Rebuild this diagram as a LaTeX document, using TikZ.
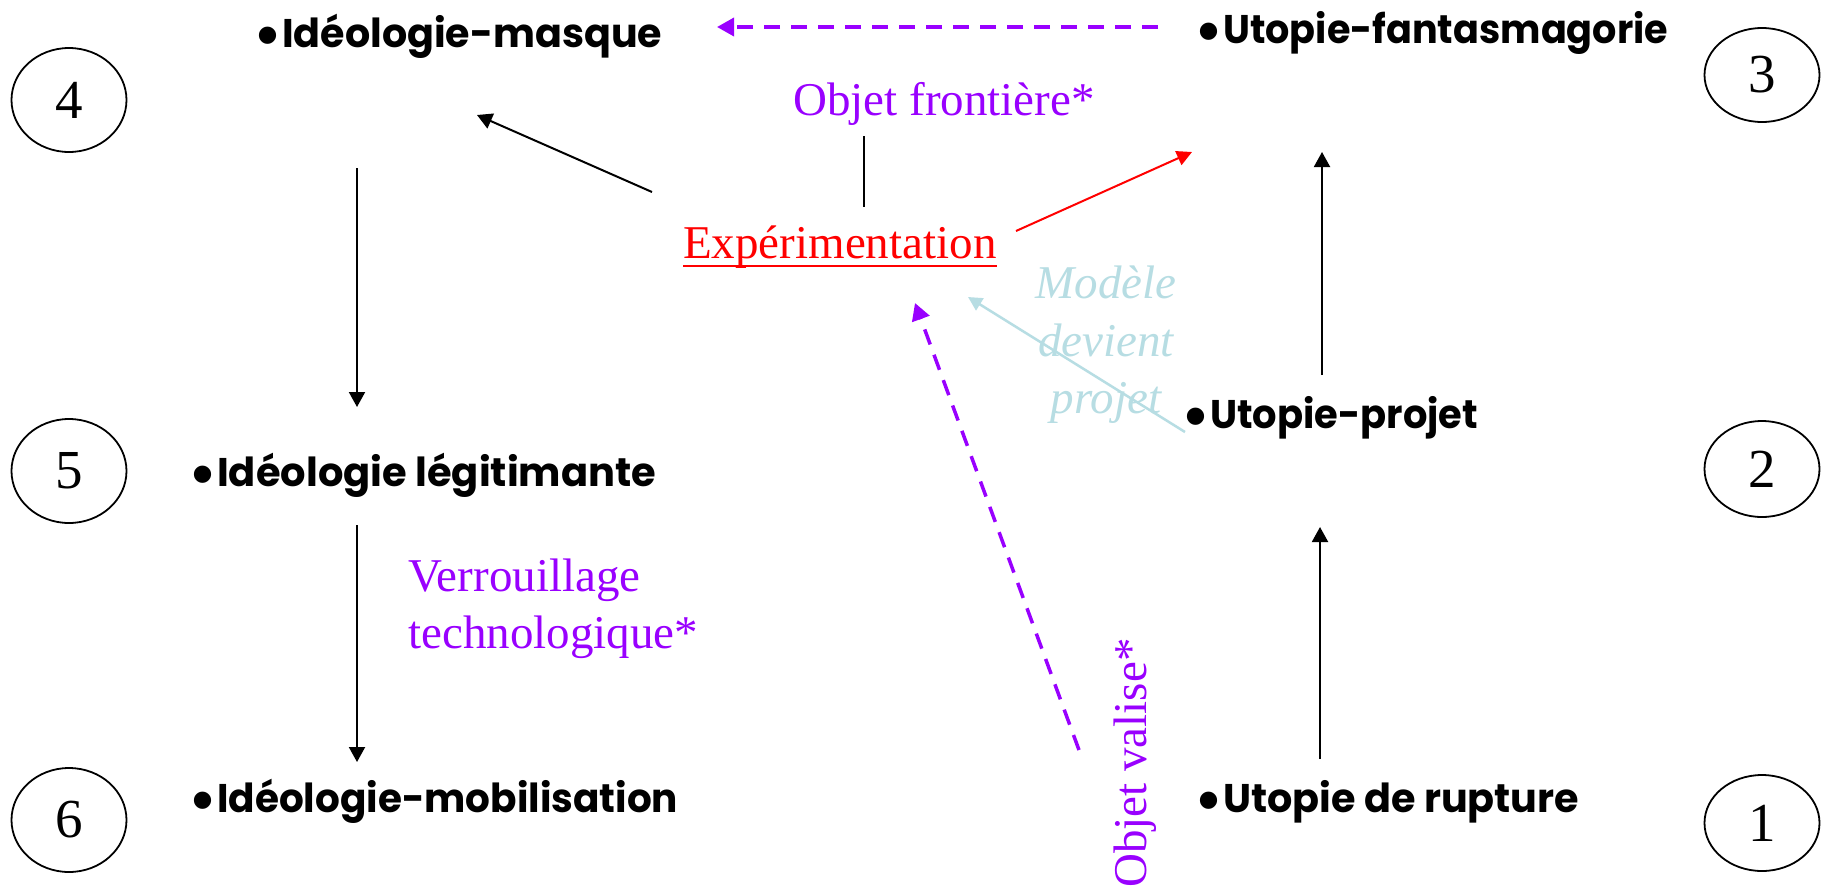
\documentclass[tikz,border=0pt]{standalone}
\usepackage{fontspec}
\usepackage{graphicx}
\setmainfont{Liberation Serif}
\newfontfamily\gothic{Poppins}
\newfontfamily\bulletfont{Liberation Sans}
\usetikzlibrary{shapes.geometric,arrows.meta}
\definecolor{viol}{RGB}{153,0,255}
\definecolor{lblue}{RGB}{183,221,227}
\newcommand{\bitem}[2]{\makebox[20pt][l]{\hspace{-5pt}\raisebox{-8pt}{\scalebox{1.5}{\bulletfont\bfseries •}}}\resizebox{#1}{\height}{\gothic\bfseries #2}}
\tikzset{
  bolditem/.style={anchor=base west, inner sep=0pt, font=\fontsize{40}{48}\selectfont},
  serif/.style={inner sep=0pt, font=\fontsize{47}{57}\selectfont},
  num/.style={ellipse, draw, line width=1.8pt, inner sep=0pt, font=\fontsize{55}{60}\selectfont, minimum width=115pt},
  blk/.style={draw, line width=2pt, -{Triangle[length=15pt,width=16pt]}},
  redarr/.style={draw=red, line width=2pt, -{Triangle[length=15pt,width=15pt]}, red},
  violarr/.style={draw=viol, line width=3.5pt, dash pattern=on 16pt off 11pt, -{Triangle[length=17pt,width=18pt]}, viol},
  bluearr/.style={draw=lblue, line width=2.5pt, -{Triangle[length=14pt,width=14pt]}, lblue},
}
\begin{document}
\begin{tikzpicture}[x=1pt,y=-1pt]
\useasboundingbox (0,0) rectangle (1826,895);
\fill[white] (0,0) rectangle (1826,895);

% numbered ellipses
\node[num, minimum height=104pt] (c4) at (69,100) {4};
\node[num, minimum height=94pt] (c3) at (1762,75) {3};
\node[num, minimum height=96pt] (c2) at (1762,469) {2};
\node[num, minimum height=104pt] (c5) at (69,471) {5};
\node[num, minimum height=104pt] (c6) at (69,820) {6};
\node[num, minimum height=96pt] (c1) at (1762,823) {1};

% bold items
\node[bolditem] (masque) at (262,47) {\bitem{380pt}{Idéologie-masque}};
\node[bolditem] (fantas) at (1203,43) {\bitem{445pt}{Utopie-fantasmagorie}};
\node[bolditem] (projet) at (1190,428) {\bitem{268pt}{Utopie-projet}};
\node[bolditem] (rupture) at (1203,812) {\bitem{356pt}{Utopie de rupture}};
\node[bolditem] (legit) at (197,486) {\bitem{439pt}{Idéologie légitimante}};
\node[bolditem] (mobil) at (197,812) {\bitem{461pt}{Idéologie-mobilisation}};

% serif labels
\node[serif, anchor=base west, text=viol] (objfront) at (793,115) {Objet frontière*};
\node[serif, anchor=base west, text=red] (exper) at (683,258) {Expérimentation};
\draw[red, line width=2pt] ([yshift=-8pt]exper.base west) -- ([yshift=-8pt]exper.base east);
\node[serif, anchor=north west, align=left, text=viol] (verrou) at (408,559) {Verrouillage\\technologique*};
\node[serif, anchor=north, align=center, text=lblue, font=\fontsize{47}{57.5}\selectfont\itshape] (modele) at (1106,266) {Modèle\\devient\\projet};
\node[serif, anchor=base west, rotate=90, text=viol] (valise) at (1146,888) {Objet valise*};

% connector end points
\coordinate (eA) at (652,192);
\coordinate (mA) at (477,115);
\coordinate (fD) at (1158,27);
\coordinate (mD) at (717,27);
\coordinate (eR) at (1016,231);
\coordinate (fR) at (1192,152);
\coordinate (pU) at (1322,375);
\coordinate (fU) at (1322,152);
\coordinate (rU) at (1320,759);
\coordinate (pD) at (1320,527);
\coordinate (mV) at (357,168);
\coordinate (lV) at (357,407);
\coordinate (lW) at (357,525);
\coordinate (oW) at (357,762);
\coordinate (pB) at (1185,432);
\coordinate (eB) at (968,297);
\coordinate (vS) at (1079,750);
\coordinate (eS) at (915,303);
\coordinate (oF) at (864,136);
\coordinate (eF) at (864,207);

% connectors
\draw[blk] (eA) -- (mA);
\draw[violarr] (fD) -- (mD);
\draw[redarr] (eR) -- (fR);
\draw[blk] (pU) -- (fU);
\draw[blk] (rU) -- (pD);
\draw[blk] (mV) -- (lV);
\draw[blk] (lW) -- (oW);
\draw[bluearr] (pB) -- (eB);
\draw[violarr] (vS) -- (eS);
\draw[line width=2pt] (oF) -- (eF);
\end{tikzpicture}
\end{document}
